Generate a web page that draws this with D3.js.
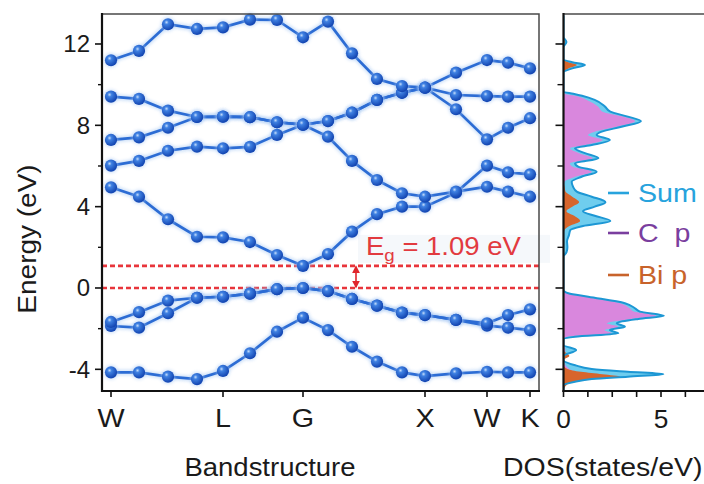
<!DOCTYPE html>
<html>
<head>
<meta charset="utf-8">
<script src="https://cdn.jsdelivr.net/npm/d3@7"></script>
<style>
  html, body { margin: 0; padding: 0; background: #ffffff; }
  svg { display: block; font-family: "Liberation Sans", Arial, Helvetica, sans-serif; }
</style>
</head>
<body>
<svg id="chart" width="704" height="484"></svg>
<script>
// ---------- band structure data ----------
// cumulative k-path distance of every computed k-point
const kPath = [0, 28, 57, 86, 112, 139, 166, 192, 217, 241, 266, 291, 314, 345, 376, 397, 419];
const kTickPos = [0, 112, 192, 314, 376, 419];
const kTickLabels = ["W", "L", "G", "X", "W", "K"];

// band energies (eV) along the path
const bandV3 = [-4.15, -4.15, -4.36, -4.48, -4.08, -3.21, -2.15, -1.46, -2.07, -2.89, -3.62, -4.15, -4.33, -4.20, -4.12, -4.15, -4.15];
const bandV2 = [-1.87, -1.95, -1.24, -0.48, -0.43, -0.28, -0.06, 0.00, -0.15, -0.54, -0.87, -1.21, -1.33, -1.57, -1.85, -1.95, -2.07];
const bandV1 = [-1.67, -1.19, -0.62, -0.48, -0.43, -0.28, -0.06, 0.00, -0.15, -0.54, -0.87, -1.21, -1.33, -1.57, -1.74, -1.33, -1.05];
const bandC1 = [4.95, 4.49, 3.38, 2.52, 2.49, 2.26, 1.62, 1.09, 1.67, 2.77, 3.63, 4.00, 4.00, 4.69, 6.02, 5.69, 5.59];
const bandC2 = [6.02, 6.25, 6.75, 6.95, 6.87, 6.94, 7.53, 8.03, 7.44, 6.25, 5.31, 4.66, 4.49, 4.74, 4.98, 4.74, 4.49];
const bandC3 = [7.28, 7.41, 7.88, 8.41, 8.43, 8.40, 8.15, 8.03, 8.21, 8.62, 9.25, 9.60, 9.85, 8.79, 7.31, 7.88, 8.35];
const bandC4 = [9.41, 9.30, 8.72, 8.41, 8.43, 8.40, 8.15, 8.03, 8.21, 8.62, 9.25, 9.60, 9.85, 9.49, 9.44, 9.41, 9.41];
const bandC5 = [11.20, 11.66, 12.97, 12.74, 12.82, 13.20, 13.18, 12.33, 13.10, 11.54, 10.28, 9.93, 9.85, 10.59, 11.21, 11.08, 10.80];

const gapValue = 1.09;   // band gap (eV), VBM at 0
const gapArrowK = 245;   // k position of the gap arrow

const energyMajor = [-4, 0, 4, 8, 12];
const energyMinor = [-2, 2, 6, 10];

// ---------- density of states data ----------
const dosEnergy = [13.4, 12.35, 12.1, 11.85, 11.25, 11.1, 10.97, 10.8, 10.6, 9.65, 9.55, 9.45, 9.25, 8.92, 8.67, 8.43, 8.2, 7.93, 7.69, 7.53, 7.28, 7.03, 6.87, 6.63, 6.38, 6.13, 5.97, 5.72, 5.47, 5.22, 4.98, 4.74, 4.49, 4.22, 4.0, 3.78, 3.55, 3.3, 3.05, 2.85, 2.6, 2.3, 2.0, 1.75, 1.55, -0.1, -0.26, -0.43, -0.75, -1.0, -1.16, -1.37, -1.52, -1.74, -1.9, -2.07, -2.23, -2.4, -2.52, -2.8, -3.05, -3.35, -3.55, -3.8, -3.98, -4.12, -4.24, -4.36, -4.48, -4.61, -4.78, -5.05];
const dosSum    = [0, 0, 0.15, 0, 0, 0.45, 1.1, 0.45, 0, 0, 0.5, 0.95, 1.6, 2.13, 2.4, 3.3, 3.97, 2.98, 1.96, 1.7, 2.38, 1.45, 0.59, 1.1, 1.79, 0.59, 0.75, 1.7, 0.93, 0.42, 0.49, 0.68, 1.45, 2.15, 1.6, 1.0, 1.6, 2.4, 1.0, 0.35, 0.28, 0.18, 0.2, 0.15, 0, 0, 0.25, 1.27, 3.15, 3.67, 3.92, 5.15, 3.84, 2.73, 3.15, 2.38, 2.81, 0.59, 0, 0, 0.65, 0, 0, 0.6, 1.45, 3.3, 5.12, 3.3, 1.45, 0.59, 0, 0];
const dosCp     = [0, 0, 0, 0, 0, 0.15, 0.45, 0.15, 0, 0, 0.05, 0.6, 1.19, 1.77, 2.0, 3.05, 3.67, 2.73, 1.6, 1.26, 2.0, 1.1, 0.33, 0.8, 1.5, 0.33, 0.45, 1.45, 0.6, 0.05, 0, 0, 0, 0, 0, 0, 0, 0, 0, 0, 0, 0, 0, 0, 0, 0, 0.15, 1.1, 2.9, 3.4, 3.6, 4.75, 3.5, 2.22, 2.8, 2.1, 2.47, 0.2, 0, 0, 0.1, 0, 0, 0.1, 0.3, 0.6, 0.9, 0.6, 0.3, 0.1, 0, 0];
const dosBip    = [0, 0, 0.06, 0, 0, 0.25, 0.68, 0.25, 0, 0, 0, 0, 0, 0, 0, 0, 0, 0, 0, 0, 0, 0, 0, 0, 0, 0, 0, 0, 0, 0, 0.05, 0.1, 0.45, 0.8, 0.45, 0.15, 0.55, 0.85, 0.3, 0.05, 0, 0, 0, 0, 0, 0, 0, 0, 0, 0, 0, 0, 0, 0, 0, 0, 0, 0, 0, 0, 0, 0.3, 0, 0, 0.2, 0.9, 2.0, 2.9, 1.7, 0.6, 0.15, 0, 0];

const dosTicks = [0, 1.25, 2.5, 3.75, 5, 6.25];
const dosTickLabels = { 0: "0", 5: "5" };

const legendItems = [
  { label: "Sum",  color: "#27a3dd" },
  { label: "C  p", color: "#7a3e9e" },
  { label: "Bi p", color: "#c8632b" }
];

// ---------- layout ----------
const svg = d3.select("#chart");
const band = { left: 102, right: 539, top: 14, bottom: 391 };
const dos  = { left: 563.5, right: 720, top: 14, bottom: 391 };

const y = d3.scaleLinear().domain([-5.066, 13.475]).range([band.bottom, band.top]);
const x = d3.scaleLinear().domain([-9, 428]).range([band.left, band.right]);
const xd = d3.scaleLinear().domain([0, 8.0]).range([dos.left, dos.left + 8.0 * 19.5]);

// text placed with a slight horizontal widening of the glyphs
function label(parent, px, py, str, size, fill, sx, anchor) {
  return parent.append("text")
    .attr("transform", `translate(${px},${py}) scale(${sx},1)`)
    .attr("text-anchor", anchor || "start")
    .attr("font-size", size).attr("fill", fill)
    .style("white-space", "pre")
    .text(str);
}

const defs = svg.append("defs");
const grad = defs.append("radialGradient").attr("id", "ball")
  .attr("cx", "38%").attr("cy", "34%").attr("r", "62%");
grad.append("stop").attr("offset", "0%").attr("stop-color", "#c4dcfb");
grad.append("stop").attr("offset", "28%").attr("stop-color", "#3f81e2");
grad.append("stop").attr("offset", "100%").attr("stop-color", "#1548b4");
defs.append("filter").attr("id", "soft").attr("x", "-20%").attr("y", "-20%").attr("width", "140%").attr("height", "140%")
  .append("feGaussianBlur").attr("stdDeviation", 1.6);
defs.append("clipPath").attr("id", "dosClip").append("rect")
  .attr("x", dos.left).attr("y", dos.top).attr("width", 704 - dos.left).attr("height", dos.bottom - dos.top);

// ---------- band panel ----------
// band-gap reference lines
const gapG = svg.append("g");
gapG.append("rect")
  .attr("x", 358).attr("y", y(gapValue) - 31).attr("width", 192).attr("height", 28)
  .attr("fill", "#eef3f8").attr("opacity", 0.6);
[0, gapValue].forEach(e => {
  gapG.append("line")
    .attr("x1", band.left).attr("x2", band.right)
    .attr("y1", y(e)).attr("y2", y(e))
    .attr("stroke", "#e8353b").attr("stroke-width", 2.6)
    .attr("stroke-dasharray", "5,3");
});

// label text
const gt = gapG.append("text")
  .attr("transform", `translate(366,${y(gapValue) - 11}) scale(1.1,1)`)
  .attr("fill", "#e23a3f").attr("font-size", 25);
gt.append("tspan").text("E");
gt.append("tspan").attr("font-size", 17).attr("dy", 6).text("g");
gt.append("tspan").attr("dy", -6).text(" = " + gapValue.toFixed(2) + " eV");

// double arrow spanning the gap
defs.append("marker").attr("id", "ah").attr("viewBox", "0 0 10 10")
  .attr("refX", 8).attr("refY", 5).attr("markerWidth", 5).attr("markerHeight", 5)
  .attr("orient", "auto-start-reverse")
  .append("path").attr("d", "M0,0 L10,5 L0,10 z").attr("fill", "#e0262c");
gapG.append("line")
  .attr("x1", x(gapArrowK)).attr("x2", x(gapArrowK))
  .attr("y1", y(gapValue) + 1).attr("y2", y(0) - 1)
  .attr("stroke", "#e0262c").attr("stroke-width", 1.6)
  .attr("marker-start", "url(#ah)").attr("marker-end", "url(#ah)");

// bands
const bands = [bandV3, bandV2, bandV1, bandC1, bandC2, bandC3, bandC4, bandC5];
const line = d3.line().x((d, i) => x(kPath[i])).y(d => y(d));
const bandG = svg.append("g");
bandG.selectAll("path.halo").data(bands).join("path")
  .attr("class", "halo").attr("d", line)
  .attr("fill", "none").attr("stroke", "#9cc2f2").attr("stroke-width", 6)
  .attr("opacity", 0.45).attr("filter", "url(#soft)");
bandG.selectAll("path.band").data(bands).join("path")
  .attr("class", "band").attr("d", line)
  .attr("fill", "none").attr("stroke", "#2c6cd4").attr("stroke-width", 2.7);
const pts = bands.flatMap(b => b.map((e, i) => ({ k: kPath[i], e })));
bandG.selectAll("circle.glow").data(pts).join("circle")
  .attr("class", "glow").attr("cx", d => x(d.k)).attr("cy", d => y(d.e)).attr("r", 7.5)
  .attr("fill", "#a9c9f4").attr("opacity", 0.45).attr("filter", "url(#soft)");
bandG.selectAll("circle.ball").data(pts).join("circle")
  .attr("class", "ball").attr("cx", d => x(d.k)).attr("cy", d => y(d.e)).attr("r", 6.1)
  .attr("fill", "url(#ball)");

// frame
svg.append("path")
  .attr("d", `M${band.left},${band.top}H${band.right}V${band.bottom}`)
  .attr("fill", "none").attr("stroke", "#4a4a4a").attr("stroke-width", 1.5);

// energy axis
const yAxis = svg.append("g").attr("transform", `translate(${band.left},0)`);
yAxis.append("line").attr("x1", 0).attr("x2", 0).attr("y1", band.top - 1).attr("y2", band.bottom + 1)
  .attr("stroke", "#111").attr("stroke-width", 2.2);
yAxis.selectAll("line.maj").data(energyMajor).join("line")
  .attr("x1", -7).attr("x2", 0).attr("y1", d => y(d)).attr("y2", d => y(d))
  .attr("stroke", "#111").attr("stroke-width", 1.6);
yAxis.selectAll("line.min").data(energyMinor).join("line")
  .attr("x1", -4).attr("x2", 0).attr("y1", d => y(d)).attr("y2", d => y(d))
  .attr("stroke", "#111").attr("stroke-width", 1.4);
yAxis.selectAll("text").data(energyMajor).join("text")
  .attr("x", -12).attr("y", d => y(d)).attr("dy", "0.35em")
  .attr("text-anchor", "end").attr("font-size", 24).attr("fill", "#1a1a1a")
  .text(d => d);

svg.append("text")
  .attr("transform", `translate(36,239) rotate(-90) scale(1.12,1)`)
  .attr("text-anchor", "middle").attr("font-size", 25).attr("fill", "#1a1a1a")
  .text("Energy (eV)");

// k axis
const kAxis = svg.append("g").attr("transform", `translate(0,${band.bottom})`);
kAxis.append("line").attr("x1", band.left - 1).attr("x2", band.right + 1).attr("y1", 0).attr("y2", 0)
  .attr("stroke", "#111").attr("stroke-width", 2.2);
kAxis.selectAll("line.tk").data(kTickPos).join("line")
  .attr("x1", d => x(d)).attr("x2", d => x(d)).attr("y1", 0).attr("y2", 6)
  .attr("stroke", "#111").attr("stroke-width", 1.6);
kTickPos.forEach((k, i) => label(kAxis, x(k), 36, kTickLabels[i], 25, "#1a1a1a", 1.15, "middle"));

label(svg, 270, 476, "Bandstructure", 25, "#1a1a1a", 1.1, "middle");

// ---------- DOS panel ----------
const dosRows = dosEnergy.map((e, i) => ({ e, sum: dosSum[i], cp: dosCp[i], bip: dosBip[i] }));
const areaFor = key => d3.area()
  .y(d => y(d.e)).x0(xd(0)).x1(d => xd(d[key]))
  .curve(d3.curveMonotoneY);
const lineFor = key => d3.line()
  .y(d => y(d.e)).x(d => xd(d[key]))
  .curve(d3.curveMonotoneY);

const dosG = svg.append("g").attr("clip-path", "url(#dosClip)");
dosG.append("path").datum(dosRows).attr("d", areaFor("sum")).attr("fill", "#6fcdee");
dosG.append("path").datum(dosRows).attr("d", areaFor("cp")).attr("fill", "#d987dd");
dosG.append("path").datum(dosRows).attr("d", areaFor("bip")).attr("fill", "#d7652c");
dosG.append("path").datum(dosRows).attr("d", lineFor("sum"))
  .attr("fill", "none").attr("stroke", "#1d97d4").attr("stroke-width", 2);

// DOS frame
svg.append("line").attr("x1", dos.left).attr("x2", 704).attr("y1", dos.top).attr("y2", dos.top)
  .attr("stroke", "#4a4a4a").attr("stroke-width", 1.5);

const dAxisY = svg.append("g").attr("transform", `translate(${dos.left},0)`);
dAxisY.append("line").attr("x1", 0).attr("x2", 0).attr("y1", dos.top - 1).attr("y2", dos.bottom + 1)
  .attr("stroke", "#111").attr("stroke-width", 2.2);
dAxisY.selectAll("line.maj").data(energyMajor).join("line")
  .attr("x1", -8).attr("x2", 0).attr("y1", d => y(d)).attr("y2", d => y(d))
  .attr("stroke", "#111").attr("stroke-width", 1.6);
dAxisY.selectAll("line.min").data(energyMinor).join("line")
  .attr("x1", -6).attr("x2", 0).attr("y1", d => y(d)).attr("y2", d => y(d))
  .attr("stroke", "#111").attr("stroke-width", 1.4);

const dAxisX = svg.append("g").attr("transform", `translate(0,${dos.bottom})`);
dAxisX.append("line").attr("x1", dos.left - 1).attr("x2", 704).attr("y1", 0).attr("y2", 0)
  .attr("stroke", "#111").attr("stroke-width", 2.2);
dAxisX.selectAll("line.tk").data(dosTicks).join("line")
  .attr("x1", d => xd(d)).attr("x2", d => xd(d)).attr("y1", 0).attr("y2", 6)
  .attr("stroke", "#111").attr("stroke-width", 1.6);
dosTicks.filter(t => dosTickLabels[t] !== undefined)
  .forEach(t => label(dAxisX, xd(t), 37, dosTickLabels[t], 25, "#1a1a1a", 1.05, "middle"));

label(svg, 503, 476, "DOS(states/eV)", 25, "#1a1a1a", 1.14, "start");

// legend
const legendY = [193, 233, 275];
const lg = svg.append("g");
legendItems.forEach((it, i) => {
  lg.append("line").attr("x1", 608).attr("x2", 629)
    .attr("y1", legendY[i]).attr("y2", legendY[i])
    .attr("stroke", it.color).attr("stroke-width", 2.6);
  label(lg, 638, legendY[i] + 9, it.label, 26, it.color, 1.1, "start");
});
</script>
</body>
</html>
